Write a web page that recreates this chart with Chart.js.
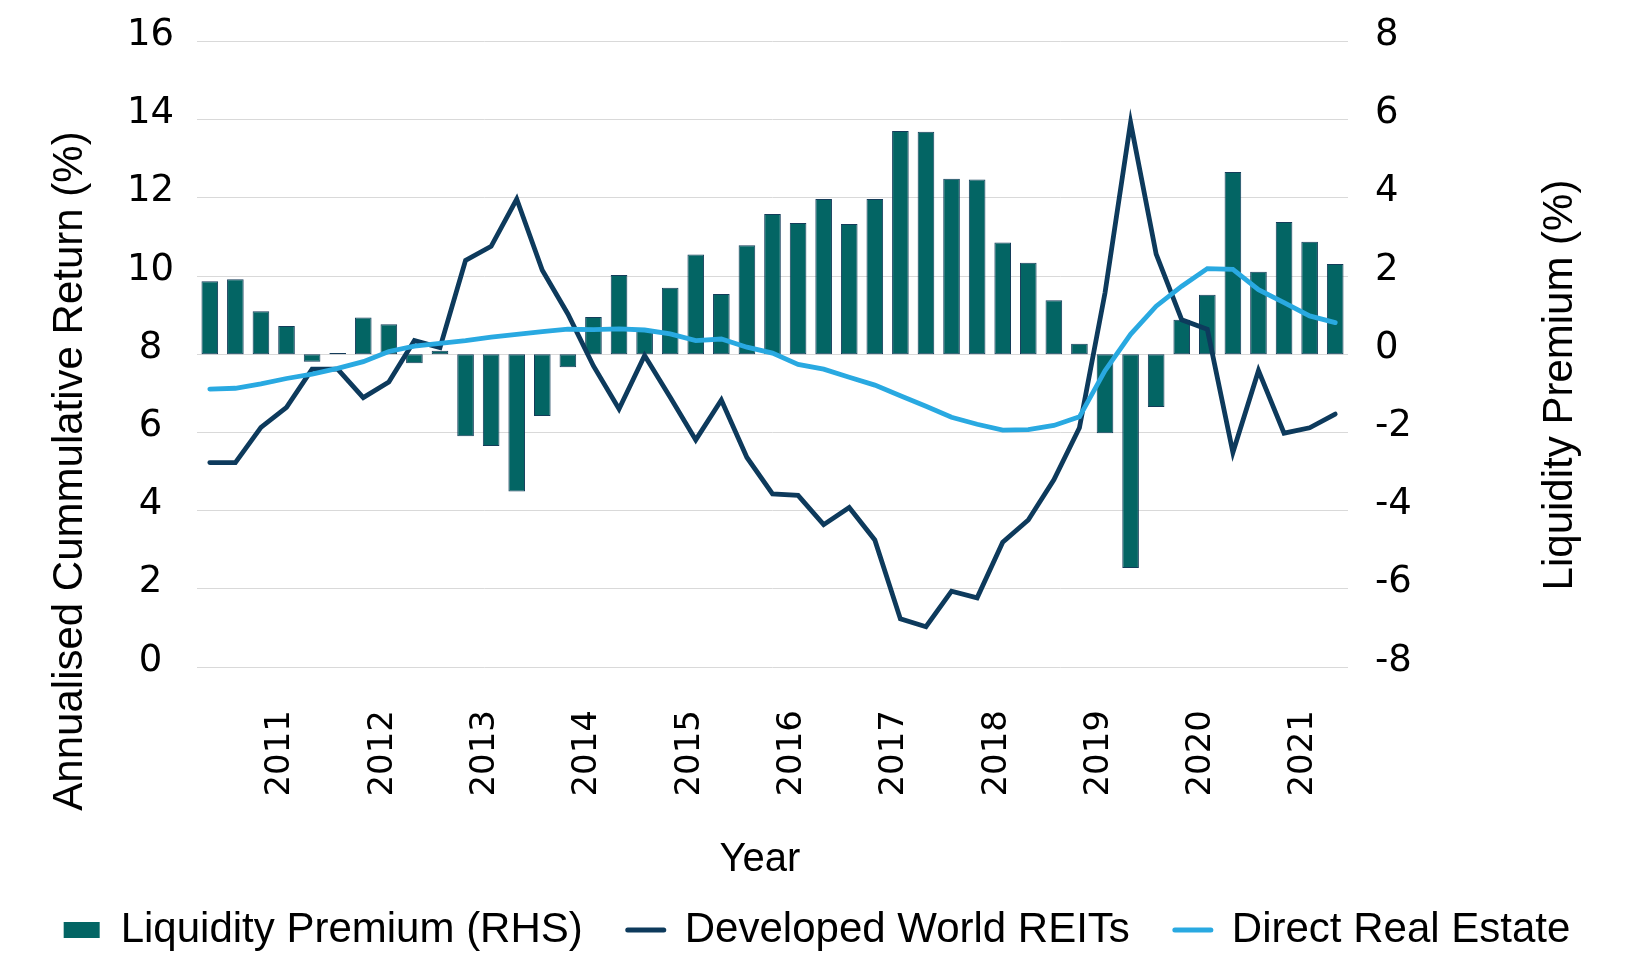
<!DOCTYPE html>
<html>
<head>
<meta charset="utf-8">
<script src="https://cdn.jsdelivr.net/npm/chart.js"></script>
<style>
  html, body { margin: 0; padding: 0; background: #ffffff; }
  #wrap { width: 1634px; height: 953px; }
</style>
</head>
<body>
<div id="wrap"><canvas id="c" width="1634" height="953"></canvas></div>
<script>
// ---------------- data ----------------
const quarters = [
  "2010 Q2","2010 Q3","2010 Q4",
  "2011 Q1","2011 Q2","2011 Q3","2011 Q4",
  "2012 Q1","2012 Q2","2012 Q3","2012 Q4",
  "2013 Q1","2013 Q2","2013 Q3","2013 Q4",
  "2014 Q1","2014 Q2","2014 Q3","2014 Q4",
  "2015 Q1","2015 Q2","2015 Q3","2015 Q4",
  "2016 Q1","2016 Q2","2016 Q3","2016 Q4",
  "2017 Q1","2017 Q2","2017 Q3","2017 Q4",
  "2018 Q1","2018 Q2","2018 Q3","2018 Q4",
  "2019 Q1","2019 Q2","2019 Q3","2019 Q4",
  "2020 Q1","2020 Q2","2020 Q3","2020 Q4",
  "2021 Q1","2021 Q2"
];

const liquidityPremium = [
  1.87, 1.92, 1.10, 0.72, -0.19, 0.03, 0.94, 0.77, -0.23, 0.09,
  -2.10, -2.35, -3.51, -1.58, -0.33, 0.95, 2.03, 0.60, 1.70, 2.55,
  1.54, 2.79, 3.59, 3.36, 3.97, 3.33, 3.97, 5.71, 5.69, 4.49,
  4.47, 2.86, 2.34, 1.38, 0.27, -2.02, -5.47, -1.35, 0.88, 1.52,
  4.66, 2.11, 3.38, 2.88, 2.31
];

const developedWorldREITs = [
  5.23, 5.23, 6.13, 6.64, 7.62, 7.62, 6.89, 7.29, 8.35, 8.17,
  10.40, 10.76, 11.97, 10.15, 9.03, 7.70, 6.60, 7.97, 6.90, 5.81,
  6.83, 5.36, 4.43, 4.39, 3.64, 4.08, 3.25, 1.23, 1.03, 1.94,
  1.77, 3.19, 3.76, 4.79, 6.12, 9.57, 13.93, 10.56, 8.88, 8.64,
  5.49, 7.58, 5.98, 6.12, 6.47
];

const directRealEstate = [
  7.11, 7.13, 7.24, 7.38, 7.49, 7.64, 7.81, 8.07, 8.21, 8.28,
  8.35, 8.44, 8.51, 8.58, 8.64, 8.63, 8.65, 8.62, 8.52, 8.35,
  8.39, 8.18, 8.03, 7.74, 7.62, 7.41, 7.21, 6.94, 6.67, 6.39,
  6.21, 6.06, 6.07, 6.18, 6.40, 7.58, 8.51, 9.23, 9.74, 10.19,
  10.17, 9.65, 9.32, 8.98, 8.81
];

const seriesNames = ["Liquidity Premium (RHS)", "Developed World REITs", "Direct Real Estate"];
const leftTicks = { min: 0, max: 16, step: 2 };
const rightTicks = { min: -8, max: 8, step: 2 };
const xTitle = "Year";
const leftTitle = "Annualised Cummulative Return (%)";
const rightTitle = "Liquidity Premium (%)";

// ---------------- style ----------------
const TEAL = "#036564";
const NAVY = "#0d3a5c";
const SKY = "#29a9e1";
const GRID = "#d9d9d9";
const TICK_FONT = "DejaVu Sans";
const TEXT_FONT = "Liberation Sans";

const axisTitlePlugin = {
  id: "axisTitles",
  afterDraw(chart) {
    const ctx = chart.ctx;
    ctx.save();
    ctx.fillStyle = "#000000";
    ctx.textAlign = "center";
    ctx.textBaseline = "middle";
    ctx.font = "42px '" + TEXT_FONT + "'";
    const items = [[leftTitle, 70, 471], [rightTitle, 1560, 385]];
    items.forEach(([t, x, y]) => {
      ctx.save();
      ctx.translate(x, y);
      ctx.rotate(-Math.PI / 2);
      ctx.fillText(t, 0, 0);
      ctx.restore();
    });
    ctx.font = "40px '" + TEXT_FONT + "'";
    ctx.fillText(xTitle, 760, 860);
    ctx.restore();
  }
};

function build() {
  const ctx = document.getElementById("c").getContext("2d");
  new Chart(ctx, {
    data: {
      labels: quarters,
      datasets: [
        {
          type: "bar",
          label: seriesNames[0],
          data: liquidityPremium,
          yAxisID: "y1",
          backgroundColor: TEAL,
          borderColor: "#143c5a",
          borderWidth: 1,
          borderSkipped: false,
          barPercentage: 0.65,
          categoryPercentage: 1.0,
          order: 3
        },
        {
          type: "line",
          label: seriesNames[1],
          data: developedWorldREITs,
          yAxisID: "y",
          borderColor: NAVY,
          backgroundColor: NAVY,
          borderWidth: 4.8,
          pointRadius: 0,
          tension: 0,
          borderCapStyle: "round",
          fill: false,
          order: 2
        },
        {
          type: "line",
          label: seriesNames[2],
          data: directRealEstate,
          yAxisID: "y",
          borderColor: SKY,
          backgroundColor: SKY,
          borderWidth: 4.8,
          pointRadius: 0,
          tension: 0,
          borderCapStyle: "round",
          fill: false,
          order: 1
        }
      ]
    },
    options: {
      responsive: false,
      animation: false,
      devicePixelRatio: 1,
      layout: { padding: { top: 41.5, left: 0, right: 0, bottom: -8 } },
      plugins: {
        tooltip: { enabled: false },
        legend: {
          display: true,
          position: "bottom",
          labels: {
            usePointStyle: true,
            pointStyleWidth: 36,
            boxHeight: 16,
            padding: 45,
            color: "#000000",
            font: { family: TEXT_FONT, size: 42 },
            generateLabels(chart) {
              return [
                { text: seriesNames[0], fillStyle: TEAL, strokeStyle: TEAL, lineWidth: 0, pointStyle: "rect", datasetIndex: 0, hidden: false },
                { text: seriesNames[1], fillStyle: NAVY, strokeStyle: NAVY, lineWidth: 5, pointStyle: "line", lineCap: "round", datasetIndex: 1, hidden: false },
                { text: seriesNames[2], fillStyle: SKY, strokeStyle: SKY, lineWidth: 5, pointStyle: "line", lineCap: "round", datasetIndex: 2, hidden: false }
              ];
            }
          }
        }
      },
      scales: {
        x: {
          type: "category",
          offset: true,
          grid: { display: false, drawTicks: false },
          border: { display: false },
          ticks: {
            autoSkip: false,
            minRotation: 90,
            maxRotation: 90,
            padding: 43,
            labelOffset: -6,
            color: "#000000",
            font: { family: TICK_FONT, size: 34 },
            callback: function (val) {
              const l = this.getLabelForValue(val);
              return l.endsWith("Q1") ? l.slice(0, 4) : "";
            }
          },
          title: { display: false, text: xTitle },
          afterFit(scale) { scale.height = 197; }
        },
        y: {
          type: "linear",
          position: "left",
          min: leftTicks.min,
          max: leftTicks.max,
          grid: { display: true, color: GRID, lineWidth: 1, drawTicks: false },
          border: { display: false },
          ticks: {
            stepSize: leftTicks.step,
            padding: 23,
            crossAlign: "center",
            labelOffset: -6,
            color: "#000000",
            font: { family: TICK_FONT, size: 37 }
          },
          afterFit(scale) { scale.width = 197; scale.paddingTop = 0; scale.paddingBottom = 0; }
        },
        y1: {
          type: "linear",
          position: "right",
          min: rightTicks.min,
          max: rightTicks.max,
          grid: { display: false, drawTicks: false },
          border: { display: false },
          ticks: {
            stepSize: rightTicks.step,
            padding: 27,
            crossAlign: "near",
            labelOffset: -6,
            color: "#000000",
            font: { family: TICK_FONT, size: 37 }
          },
          afterFit(scale) { scale.width = 286; scale.paddingTop = 0; scale.paddingBottom = 0; }
        }
      }
    },
    plugins: [axisTitlePlugin]
  });
}

const fontLoads = [
  document.fonts.load("36px 'DejaVu Sans'"),
  document.fonts.load("42px 'Liberation Sans'")
];
Promise.all(fontLoads).then(build, build);
</script>
</body>
</html>
